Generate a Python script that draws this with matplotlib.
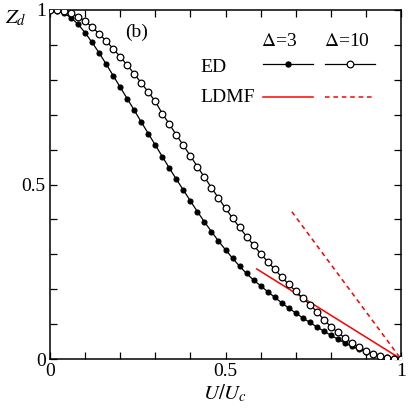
import numpy as np
import matplotlib
matplotlib.use("Agg")
import matplotlib.pyplot as plt
from matplotlib.ticker import FixedLocator, FixedFormatter

plt.rcParams['font.family'] = ['Liberation Serif', 'DejaVu Serif']
plt.rcParams['mathtext.fontset'] = 'stix'

# U/Uc grid (ED data)
u = np.linspace(0, 1, 51)

# Delta = 3, ED (filled circles)
z_d3 = [1.000, 0.998, 0.991, 0.978, 0.959, 0.935, 0.907, 0.877, 0.845, 0.812,
        0.779, 0.746, 0.713, 0.679, 0.646, 0.613, 0.580, 0.547, 0.515, 0.484,
        0.453, 0.422, 0.393, 0.365, 0.338, 0.313, 0.289, 0.266, 0.245, 0.226,
        0.210, 0.193, 0.177, 0.161, 0.146, 0.132, 0.118, 0.105, 0.092, 0.080,
        0.068, 0.057, 0.046, 0.036, 0.028, 0.021, 0.014, 0.009, 0.005, 0.002,
        0.000]

# Delta = 10, ED (open circles)
z_d10 = [1.000, 0.999, 0.997, 0.991, 0.981, 0.968, 0.951, 0.932, 0.911, 0.889,
         0.866, 0.842, 0.817, 0.791, 0.765, 0.738, 0.703, 0.673, 0.642, 0.612,
         0.582, 0.551, 0.521, 0.491, 0.461, 0.432, 0.404, 0.377, 0.351, 0.326,
         0.302, 0.279, 0.257, 0.235, 0.214, 0.194, 0.175, 0.156, 0.136, 0.113,
         0.093, 0.076, 0.060, 0.046, 0.034, 0.024, 0.015, 0.009, 0.004, 0.001,
         0.000]

# LDMF linear approximations near U=Uc
ldmf3_u = [0.589, 1.0]
ldmf3_z = [0.258, 0.0]
ldmf10_u = [0.689, 1.0]
ldmf10_z = [0.422, 0.0]

fig = plt.figure(figsize=(4.09, 4.12), dpi=100)
ax = fig.add_axes([50/409, 53/412, 351/409, 349/412])

lw = 0.9
ax.plot(u, z_d3, '-', color='black', lw=lw, marker='o', ms=3.6,
        mfc='black', mec='black', mew=0.8, zorder=3)
ax.plot(u, z_d10, '-', color='black', lw=lw, marker='o', ms=4.8,
        mfc='white', mec='black', mew=0.9, zorder=3)
ax.plot(ldmf3_u, ldmf3_z, '-', color='red', lw=1.1, zorder=2)
ax.plot(ldmf10_u, ldmf10_z, '--', color='red', lw=1.1, dashes=(3, 2.5), zorder=2)

ax.set_xlim(0, 1)
ax.set_ylim(0, 1)

ticks = np.round(np.arange(0, 1.01, 0.1), 1)
labels = ['0', '', '', '', '', '0.5', '', '', '', '', '1']
for axis in (ax.xaxis, ax.yaxis):
    axis.set_major_locator(FixedLocator(ticks))
    axis.set_major_formatter(FixedFormatter(labels))
ax.tick_params(direction='in', length=5, width=0.9, top=True, right=True,
               labelsize=14, pad=3)
for s in ax.spines.values():
    s.set_linewidth(1.1)

ax.set_xlabel(r'$U/U_c$', fontsize=15, labelpad=2)
fig.text(5/409, 1 - 18/412, r'$Z_d$', fontsize=15, va='center', ha='left')

ax.text(125/409*0 + (125-50)/351, (359-32)/349, '(b)', transform=ax.transAxes,
        fontsize=14, va='center', ha='left')

# custom legend
def fx(px):
    return (px - 50) / 351

def fy(py):
    return (359 - py) / 349

ax.text(fx(279), fy(42), r'$\Delta$=3', transform=ax.transAxes, fontsize=14,
        ha='center', va='center')
ax.text(fx(347), fy(42), r'$\Delta$=10', transform=ax.transAxes, fontsize=14,
        ha='center', va='center')
ax.text(fx(200), fy(68), 'ED', transform=ax.transAxes, fontsize=14,
        ha='left', va='center')
ax.text(fx(200), fy(98), 'LDMF', transform=ax.transAxes, fontsize=14,
        ha='left', va='center')

ax.plot([fx(263), fx(313)], [fy(64), fy(64)], '-', color='black', lw=lw,
        transform=ax.transAxes, clip_on=False)
ax.plot([fx(288)], [fy(64)], 'o', ms=3.6, mfc='black', mec='black',
        transform=ax.transAxes, clip_on=False)
ax.plot([fx(325), fx(375)], [fy(64), fy(64)], '-', color='black', lw=lw,
        transform=ax.transAxes, clip_on=False)
ax.plot([fx(350)], [fy(64)], 'o', ms=4.8, mfc='white', mec='black', mew=0.9,
        transform=ax.transAxes, clip_on=False)
ax.plot([fx(263), fx(313)], [fy(97), fy(97)], '-', color='red', lw=1.1,
        transform=ax.transAxes)
ax.plot([fx(325), fx(375)], [fy(97), fy(97)], '--', color='red', lw=1.1,
        dashes=(3, 2.5), transform=ax.transAxes)

fig.savefig('out.png', dpi=100)
